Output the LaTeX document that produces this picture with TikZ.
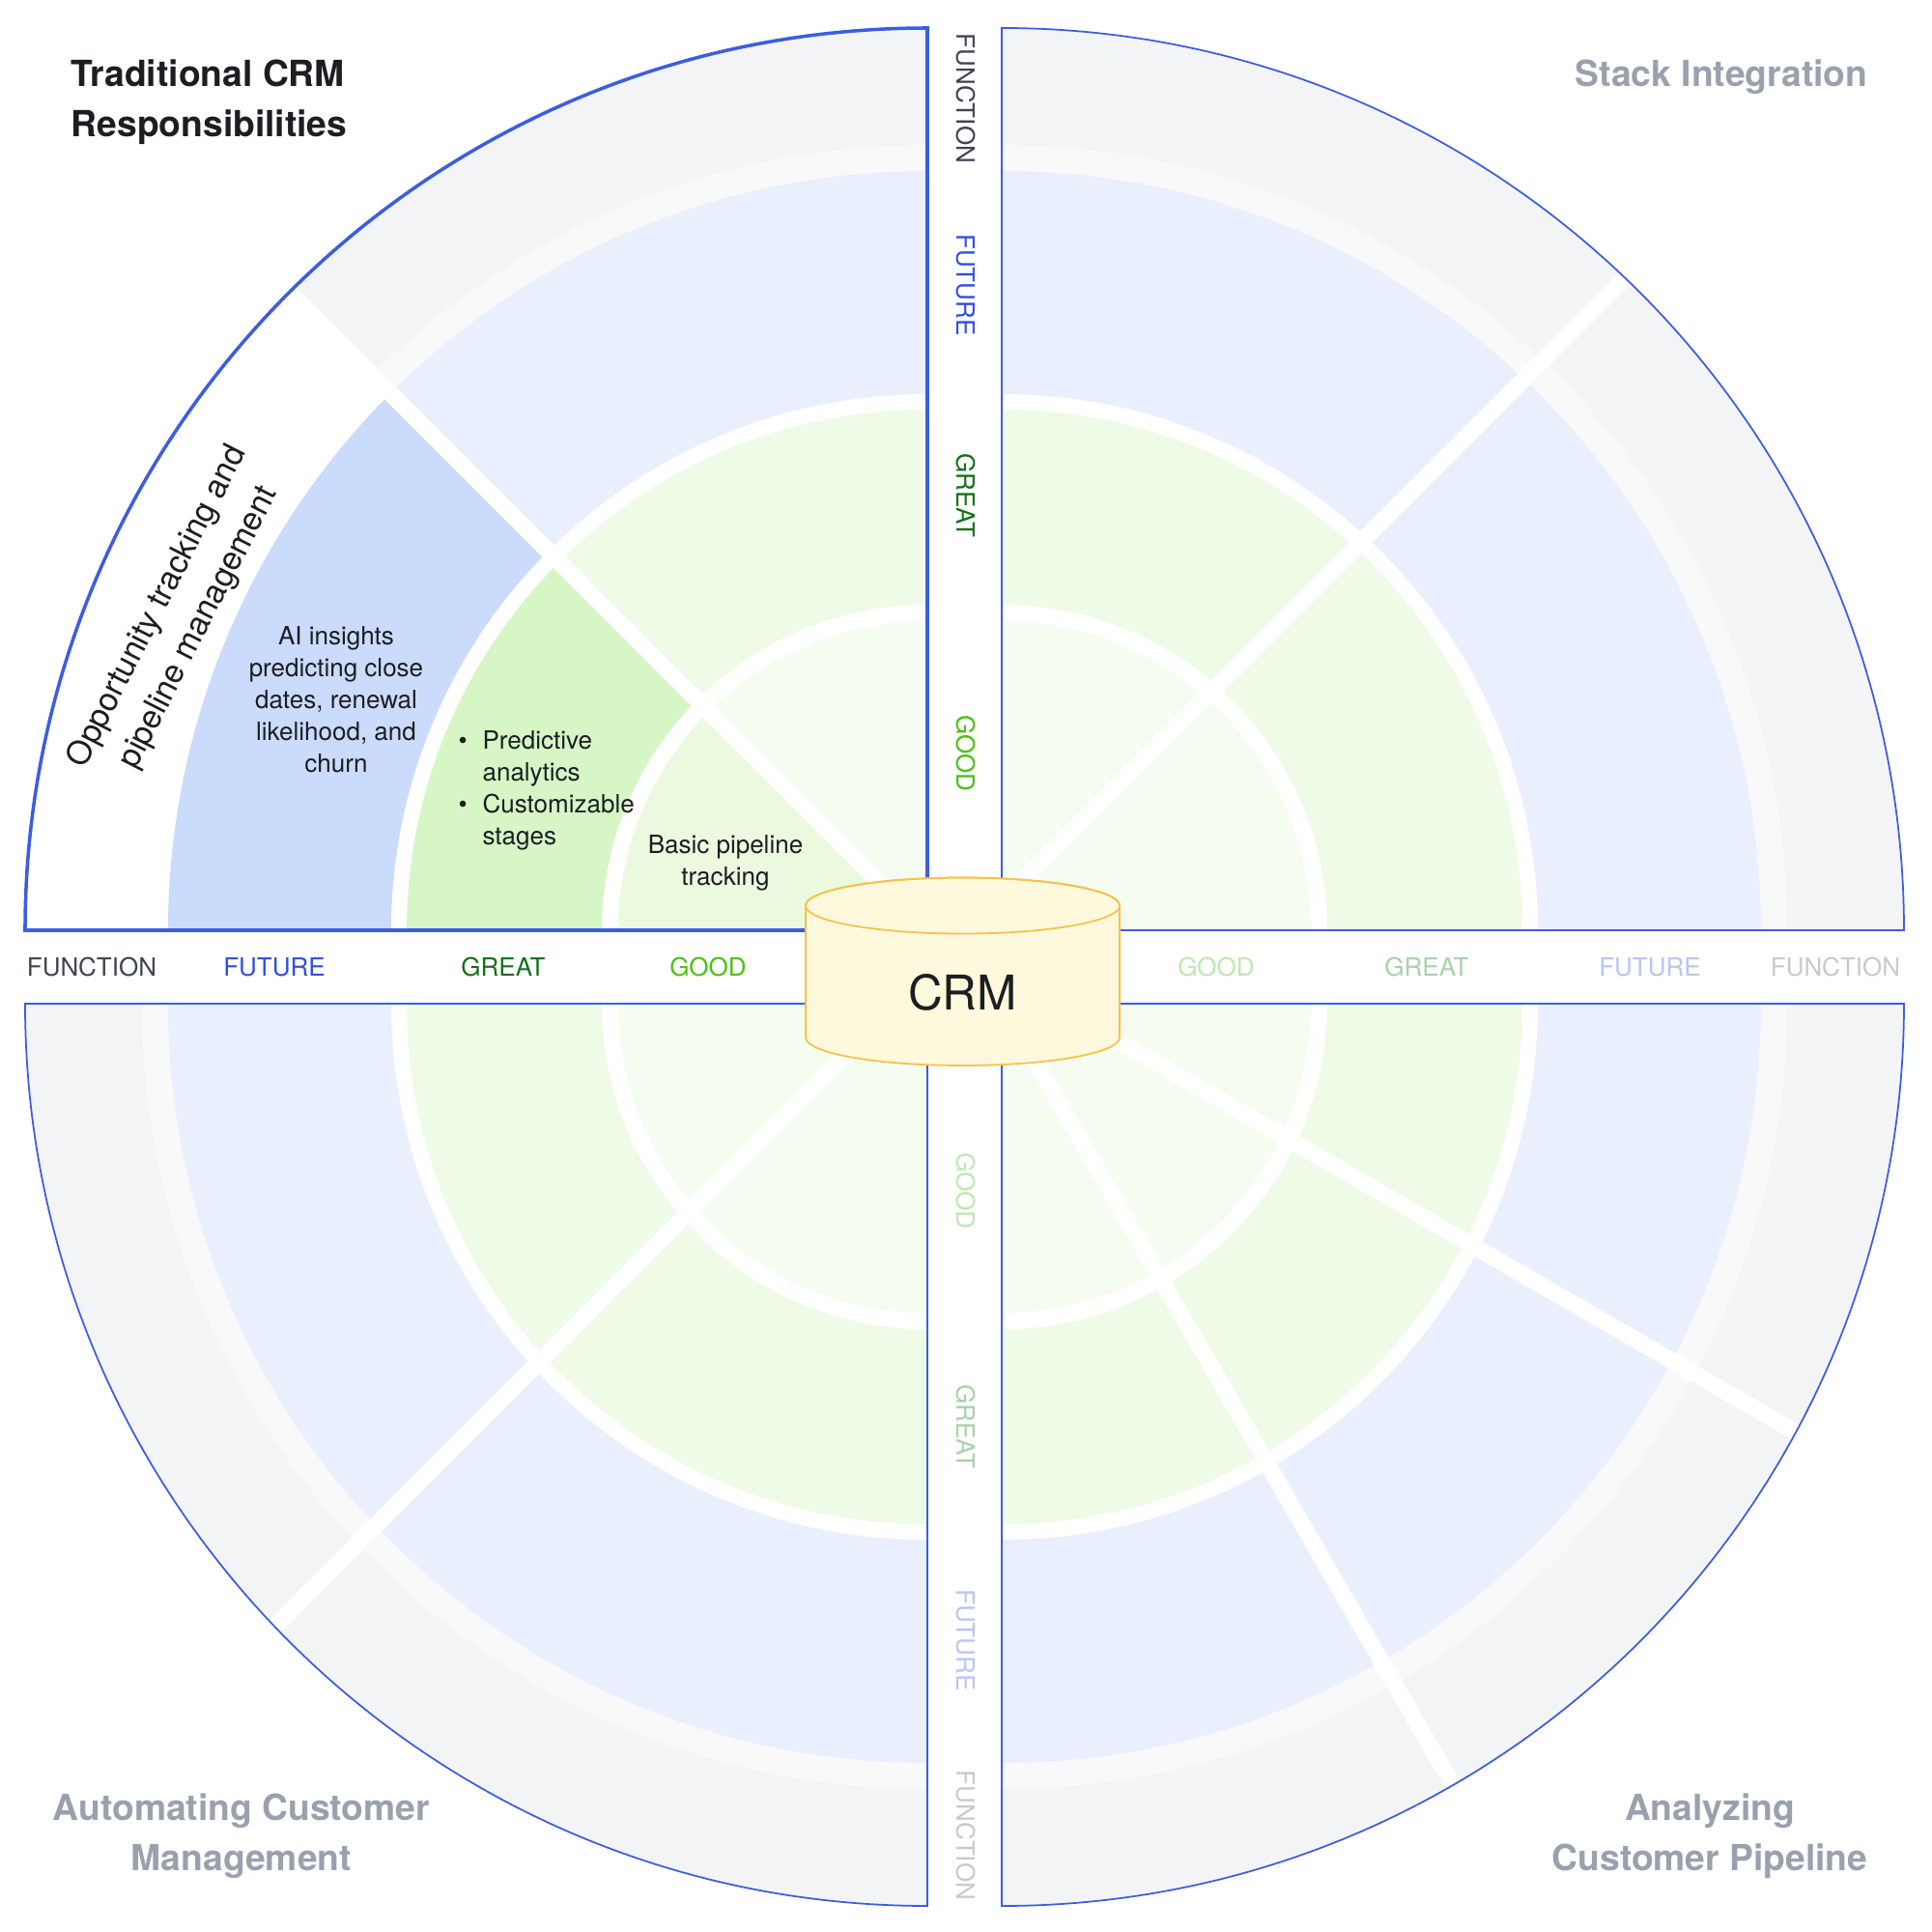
\documentclass[tikz,border=0pt]{standalone}
\usepackage{fontspec}
\setmainfont{TeX Gyre Heros}
\usetikzlibrary{positioning}
\definecolor{rimblue}{RGB}{61,93,224}
\definecolor{fnband}{RGB}{243,244,246}
\definecolor{fngap}{RGB}{249,249,250}
\definecolor{fuband}{RGB}{233,239,253}
\definecolor{grband}{RGB}{238,251,231}
\definecolor{goband}{RGB}{245,253,240}
\definecolor{fuhigh}{RGB}{203,219,252}
\definecolor{grhigh}{RGB}{214,246,198}
\definecolor{gohigh}{RGB}{235,250,222}
\definecolor{fnlab}{RGB}{63,68,81}
\definecolor{fulab}{RGB}{47,79,224}
\definecolor{grlab}{RGB}{21,112,26}
\definecolor{golab}{RGB}{76,193,20}
\definecolor{fnfade}{RGB}{200,201,206}
\definecolor{fufade}{RGB}{184,196,245}
\definecolor{grfade}{RGB}{168,210,168}
\definecolor{gofade}{RGB}{189,232,176}
\definecolor{dimtitle}{RGB}{154,161,174}
\definecolor{cylfill}{RGB}{254,248,220}
\definecolor{cyledge}{RGB}{246,194,72}
\definecolor{ink}{RGB}{28,30,34}

\begin{document}
\begin{tikzpicture}[sep/.style={white,line width=1.7mm},
    rim/.style={draw=rimblue,line width=.5pt},
    axislabel/.style={font=\fontsize{7.4}{9}\selectfont,inner sep=0pt},
    cell/.style={font=\fontsize{7.4}{9.4}\selectfont,text=ink,align=center,inner sep=0pt},
    title/.style={font=\fontsize{10.6}{14.8}\selectfont\bfseries,inner sep=0pt}]
\useasboundingbox (-9.985,-9.99) rectangle (10.015,10.01);

\foreach \cx/\cy/\a in {-0.385/0.38/90,0.385/0.38/0,-0.385/-0.38/180,0.385/-0.38/270}
  \foreach \r/\c in {9.34/fnband,8.13/fngap,7.86/fuband,5.55/white,5.39/grband,3.37/white,3.2/goband}
    \fill[\c] (\cx,\cy) -- ++(\a:\r) arc[start angle=\a,delta angle=90,radius=\r] -- cycle;

\foreach \r/\c in {9.34/white,7.86/fuhigh,5.55/white,5.39/grhigh,3.37/white,3.2/gohigh}
  \fill[\c] (-0.385,0.38) -- ++(135:\r) arc[start angle=135,delta angle=45,radius=\r] -- cycle;

\begin{scope}
  \clip (-0.385,0.38) -- ++(90:9.34) arc[start angle=90,delta angle=90,radius=9.34] -- cycle
        (0.385,0.38) -- ++(0:9.34) arc[start angle=0,delta angle=90,radius=9.34] -- cycle
        (-0.385,-0.38) -- ++(180:9.34) arc[start angle=180,delta angle=90,radius=9.34] -- cycle
        (0.385,-0.38) -- ++(270:9.34) arc[start angle=270,delta angle=90,radius=9.34] -- cycle;
  \draw[sep] (-0.385,0.38) -- ++(135:10);
  \draw[sep] (0.385,0.68) -- ++(45:10);
  \draw[sep] (-0.385,-0.07) -- ++(225:10);
  \draw[sep] (0.385,-0.07) -- ++(-30:10);
  \draw[sep] (0.385,-0.38) -- ++(-60:10);
\end{scope}

\foreach \cx/\cy/\a in {0.385/0.38/0,-0.385/-0.38/180,0.385/-0.38/270}
  \draw[rim] (\cx,\cy) -- ++(\a:9.34) arc[start angle=\a,delta angle=90,radius=9.34] -- cycle;
\draw[rim,line width=1pt] (-0.385,0.38) -- ++(90:9.34) arc[start angle=90,delta angle=90,radius=9.34] -- cycle;

\foreach \t/\c/\x in {FUNCTION/fnlab/-9.035,FUTURE/fulab/-7.145,GREAT/grlab/-4.775,GOOD/golab/-2.655}
  \node[axislabel,text=\c] (w-\t) at (\x,0) {\t};
\foreach \t/\c/\x in {GOOD/gofade/2.605,GREAT/grfade/4.785,FUTURE/fufade/7.095,FUNCTION/fnfade/9.015}
  \node[axislabel,text=\c] (e-\t) at (\x,0) {\t};
\foreach \t/\c/\y in {FUNCTION/fnlab/8.99,FUTURE/fulab/7.06,GREAT/grlab/4.88,GOOD/golab/2.21}
  \node[axislabel,text=\c,rotate=-90] (n-\t) at (0.015,\y) {\t};
\foreach \t/\c/\y in {GOOD/gofade/-2.32,GREAT/grfade/-4.76,FUTURE/fufade/-6.97,FUNCTION/fnfade/-8.99}
  \node[axislabel,text=\c,rotate=-90] (s-\t) at (0.015,\y) {\t};

\filldraw[fill=cylfill,draw=cyledge,line width=.5pt] (-1.645,0.635) -- (-1.645,-0.73)
  arc[start angle=180,end angle=360,x radius=1.625,y radius=0.29] -- (1.605,0.635)
  arc[start angle=0,end angle=180,x radius=1.625,y radius=0.29] -- cycle;
\draw[cyledge,line width=.5pt] (-0.02,0.635) ellipse[x radius=1.625,y radius=0.29];
\node[font=\fontsize{14.1}{16}\selectfont,text=ink,inner sep=0pt] (crm) at (-0.02,-0.26) {CRM};

\node[title,text=ink,align=left,anchor=west] (trad) at (-9.255,8.95) {Traditional CRM\\Responsibilities};
\node[title,text=dimtitle,anchor=east] (stack) at (9.355,9.21) {Stack Integration};
\node[title,text=dimtitle,align=center] (autom) at (-7.485,-9.0) {Automating Customer\\Management};
\node[title,text=dimtitle,align=center] (analy) at (7.715,-9.0) {Analyzing\\Customer Pipeline};

\node[cell,font=\fontsize{9.6}{13.7}\selectfont,rotate=63] (opp) at (-8.14,3.62) {Opportunity tracking and\\pipeline management};
\node[cell] (ai) at (-6.505,2.77) {AI insights\\predicting close\\dates, renewal\\likelihood, and\\churn};
\node[cell,anchor=west] (feat) at (-5.245,1.83) {\begin{tabular}{@{}l@{\hspace{4.5pt}}l@{}}
  \textbullet & Predictive\\ & analytics\\ \textbullet & Customizable\\ & stages\end{tabular}};
\node[cell] (basic) at (-2.475,1.08) {Basic pipeline\\tracking};
\end{tikzpicture}
\end{document}
